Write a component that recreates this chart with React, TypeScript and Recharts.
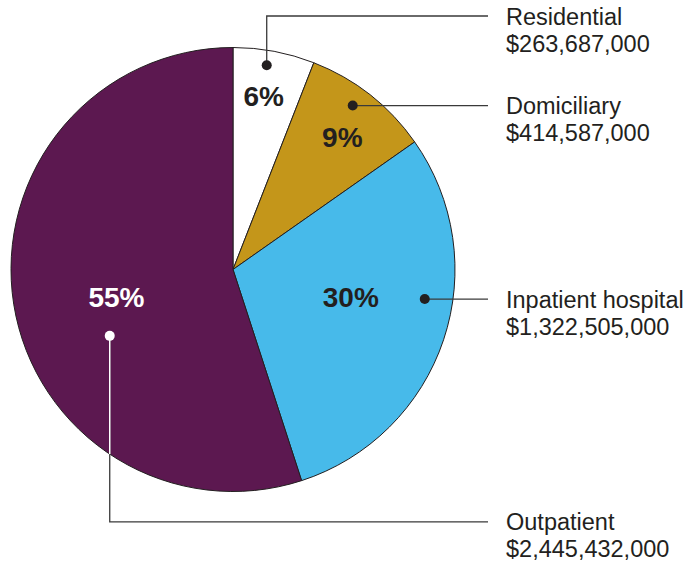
import { PieChart, Pie, Cell } from 'recharts';

const categories = ['Residential', 'Domiciliary', 'Inpatient hospital', 'Outpatient'];
const spending = [263687000, 414587000, 1322505000, 2445432000];

const COLORS = ['#FFFFFF', '#C4961A', '#47BAEA', '#5C1850'];
const INK = '#231F20';
const FONT = '"Liberation Sans", Arial, Helvetica, sans-serif';
const RADIAN = Math.PI / 180;

// per-slice callout layout: percent label (radius, angle shift from midAngle),
// dot (radius, angle shift), optional elbow offset from cy
const layout = [
  { pr: 176, pa: 0.6, dr: 207, da: 1.3, elbow: -253.5, light: false },
  { pr: 171, pa: -1.6, dr: 203, da: 2, elbow: null, light: false },
  { pr: 121, pa: 5.2, dr: 194, da: 9.7, elbow: null, light: false },
  { pr: 120, pa: 4.7, dr: 140, da: 19.3, elbow: 252.3, light: true },
];

const data = categories.map((name, i) => ({ name, value: spending[i] }));

const renderLabel = (props: any) => {
  const { cx, cy, midAngle, outerRadius, percent, index } = props;
  const l = layout[index];
  const pa = (midAngle + l.pa) * RADIAN;
  const px = cx + l.pr * Math.cos(pa);
  const py = cy - l.pr * Math.sin(pa);
  const da = (midAngle + l.da) * RADIAN;
  const dx = cx + l.dr * Math.cos(da);
  const dy = cy - l.dr * Math.sin(da);
  const lineEnd = cx + 255;
  const textX = cx + 273;
  const lineY = l.elbow === null ? dy : cy + l.elbow;
  const fg = l.light ? '#FFFFFF' : INK;

  let segments = null;
  if (l.elbow === null) {
    segments = <line x1={dx} y1={dy} x2={lineEnd} y2={dy} stroke="#3a3a3a" strokeWidth={1.3} />;
  } else {
    // vertical part: light inside the pie, dark outside
    const edge = Math.sqrt(outerRadius * outerRadius - (dx - cx) * (dx - cx));
    const edgeY = lineY > cy ? cy + edge : cy - edge;
    segments = (
      <g>
        <polyline
          points={`${dx},${dy} ${dx},${lineY} ${lineEnd},${lineY}`}
          fill="none"
          stroke="#3a3a3a"
          strokeWidth={1.3}
        />
        {l.light && <line x1={dx} y1={dy} x2={dx} y2={edgeY} stroke="#FFFFFF" strokeWidth={1.5} />}
      </g>
    );
  }

  return (
    <g key={`lbl-${index}`}>
      {segments}
      <circle cx={dx} cy={dy} r={5} fill={fg} />
      <text
        x={px}
        y={py}
        textAnchor="middle"
        dominantBaseline="central"
        fill={fg}
        fontFamily={FONT}
        fontWeight="bold"
        fontSize={28}
      >
        {`${Math.round(percent * 100)}%`}
      </text>
      <text x={textX} y={lineY + 8.5} fill={INK} fontFamily={FONT} fontSize={23.5}>
        {categories[index]}
      </text>
      <text x={textX} y={lineY + 35.5} fill={INK} fontFamily={FONT} fontSize={23.5}>
        {'$' + spending[index].toLocaleString('en-US')}
      </text>
    </g>
  );
};

export default function App() {
  return (
    <div style={{ width: 690, height: 562, background: '#fff' }}>
      <style>{'body{margin:0}'}</style>
      <PieChart width={690} height={562} margin={{ top: 0, right: 0, bottom: 0, left: 0 }}>
        <Pie
          data={data}
          dataKey="value"
          nameKey="name"
          cx={233}
          cy={269.5}
          outerRadius={222}
          startAngle={90}
          endAngle={-270}
          stroke={INK}
          strokeWidth={1}
          label={renderLabel}
          labelLine={false}
          isAnimationActive={false}
        >
          {data.map((_, i) => (
            <Cell key={`cell-${i}`} fill={COLORS[i]} />
          ))}
        </Pie>
      </PieChart>
    </div>
  );
}
